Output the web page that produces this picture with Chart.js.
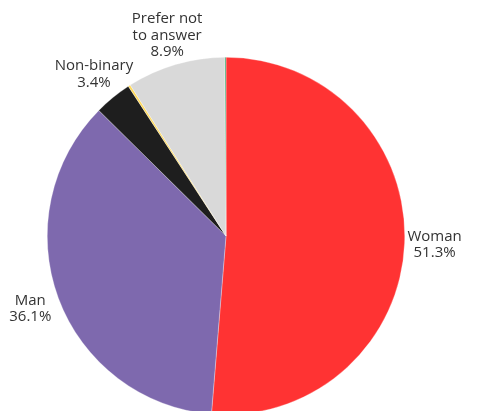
<!DOCTYPE html>
<html>
<head>
<meta charset="utf-8">
<script src="https://cdn.jsdelivr.net/npm/chart.js@4"></script>
<style>
  html, body { margin: 0; padding: 0; background: #fff; overflow: hidden; }
  #wrap { width: 478px; height: 411px; overflow: hidden; }
  #box { width: 478px; height: 474px; }
</style>
</head>
<body>
<div id="wrap"><div id="box"><canvas id="genderPie"></canvas></div></div>
<script>
// data
const labels = ['Woman', 'Man', 'Non-binary', 'Other', 'Prefer not to answer', 'Self-described'];
const shares = [51.3, 36.1, 3.4, 0.2, 8.9, 0.1];
const labelLines = [['Woman'], ['Man'], ['Non-binary'], [], ['Prefer not', 'to answer'], []];
const colors = ['#ff3333', '#7e69ae', '#1e1e1e', '#ffd95a', '#d9d9d9', '#3aa56b'];

// draws the outside labels for the bigger slices
const outsideLabels = {
    id: 'outsideLabels',
    afterDatasetsDraw(chart) {
        const ctx = chart.ctx;
        const meta = chart.getDatasetMeta(0);
        ctx.save();
        ctx.font = '15px "Open Sans", sans-serif';
        ctx.fillStyle = '#333';
        ctx.textAlign = 'center';
        ctx.textBaseline = 'middle';
        meta.data.forEach((arc, i) => {
            if (!labelLines[i].length) return;
            const mid = (arc.startAngle + arc.endAngle) / 2;
            const r = arc.outerRadius + 30;
            const lines = labelLines[i].concat([shares[i].toFixed(1) + '%']);
            const lh = 16.5;
            const x = arc.x + Math.cos(mid) * r;
            const y = arc.y + Math.sin(mid) * r;
            const top = y - (lines.length - 1) * lh / 2;
            lines.forEach((t, k) => ctx.fillText(t, x, top + k * lh));
        });
        ctx.restore();
    }
};

const ctx = document.getElementById('genderPie').getContext('2d');
const genderPie = new Chart(ctx, {
    type: 'pie',
    data: {
        labels: labels,
        datasets: [{
            data: shares,
            backgroundColor: colors,
            borderColor: 'rgba(255,255,255,0.6)',
            borderWidth: 0.5,
        }],
    },
    options: {
        responsive: true,
        maintainAspectRatio: false,
        animation: false,
        layout: { padding: { left: 47, right: 73, top: 57, bottom: 59 } },
        plugins: {
            legend: { display: false },
            tooltip: { enabled: false },
        },
    },
    plugins: [outsideLabels],
});
</script>
</body>
</html>
